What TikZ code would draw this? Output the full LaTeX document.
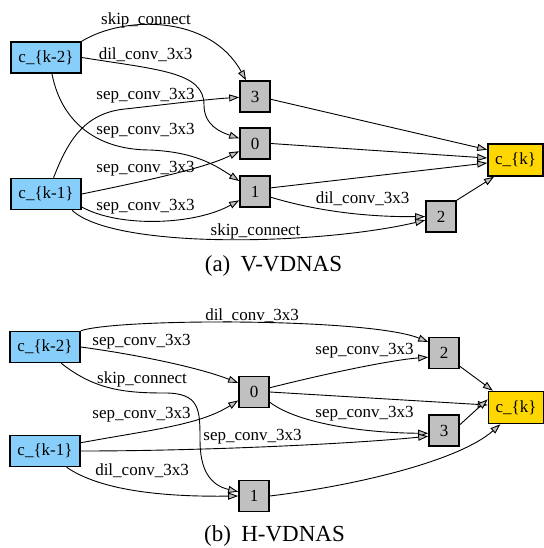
\documentclass[tikz,border=0pt]{standalone}
\usepackage{fontspec}
\setmainfont{Liberation Serif}
\usepackage{xcolor}
\definecolor{skyblue}{RGB}{135,206,250}
\definecolor{goldfill}{RGB}{255,215,0}
\definecolor{opgray}{RGB}{192,192,192}
\usepackage{tikz}
\usetikzlibrary{arrows.meta}

\begin{document}
\begin{tikzpicture}[x=1pt,y=-1pt,
        font=\fontsize{17}{20}\selectfont,
        inp/.style={draw,line width=1.6pt,fill=skyblue,minimum width=70pt,minimum height=31pt,inner sep=0pt},
        opnode/.style={draw,line width=1.6pt,fill=opgray,minimum width=30pt,minimum height=31pt,inner sep=0pt},
        outp/.style={draw,line width=1.6pt,fill=goldfill,minimum width=55pt,minimum height=32pt,inner sep=0pt},
        edge/.style={line width=0.9pt,-{Triangle[length=10pt,width=7pt,fill=opgray]}},
        lbl/.style={anchor=base,inner sep=0pt},
        capt/.style={anchor=base,inner sep=0pt,font=\fontsize{23}{27}\selectfont}]
        \useasboundingbox (0,0) rectangle (543,548);

        % (a) V-VDNAS
        \node[inp] (km2a) at (46,57.5) {c\_\{k-2\}};
        \node[inp] (km1a) at (46,194) {c\_\{k-1\}};
        \node[opnode] (n3a) at (255,96.5) {3};
        \node[opnode] (n0a) at (255,143.5) {0};
        \node[opnode] (n1a) at (255,191.5) {1};
        \node[opnode] (n2a) at (441,216.5) {2};
        \node[outp] (cka) at (515.5,160) {c\_\{k\}};

        \draw[edge] (km2a.north east) .. controls (125,15) and (210,15) .. (n3a);
        \draw[edge] (km2a.east) .. controls (160,70) and (204,72) .. (204,105) .. controls (204,125) and (220,132) .. (n0a);
        \draw[edge] (km2a.-70) .. controls (62,125) and (100,150) .. (150,150) .. controls (195,152) and (215,165) .. (n1a);
        \draw[edge] (km1a.65) .. controls (68,140) and (85,113) .. (125,109) .. controls (170,104) and (210,99) .. (n3a);
        \draw[edge] (km1a.east) .. controls (150,180) and (205,168) .. (n0a);
        \draw[edge] (km1a.-20) .. controls (120,228) and (195,225) .. (n1a);
        \draw[edge] (km1a.-32) .. controls (115,250) and (320,245) .. (n2a);
        \draw[edge] (n1a.-20) .. controls (320,212) and (370,217) .. (n2a);
        \draw[edge] (n3a.-10) -- (cka.160);
        \draw[edge] (n0a.east) -- (cka.176);
        \draw[edge] (n1a.13) -- (cka.-174);
        \draw[edge] (n2a.north east) -- (cka.-142);

        \node[lbl] (la1) at (146,25) {skip\_connect};
        \node[lbl] (la2) at (145.5,60) {dil\_conv\_3x3};
        \node[lbl] (la3) at (145.5,100) {sep\_conv\_3x3};
        \node[lbl] (la4) at (145.5,135) {sep\_conv\_3x3};
        \node[lbl] (la5) at (145.5,172) {sep\_conv\_3x3};
        \node[lbl] (la6) at (145.5,210) {sep\_conv\_3x3};
        \node[lbl] (la7) at (255.5,235) {skip\_connect};
        \node[lbl] (la8) at (362.5,203) {dil\_conv\_3x3};
        \node[capt] (capa) at (273.5,271) {(a)\hspace{0.45em}V-VDNAS};

        % (b) H-VDNAS
        \node[inp] (km2b) at (45,347) {c\_\{k-2\}};
        \node[inp] (km1b) at (45,451) {c\_\{k-1\}};
        \node[opnode] (n0b) at (254,392) {0};
        \node[opnode] (n1b) at (254,496) {1};
        \node[opnode] (n2b) at (444,353) {2};
        \node[opnode] (n3b) at (444,430.5) {3};
        \node[outp] (ckb) at (516,407.5) {c\_\{k\}};

        \draw[edge] (km2b.north east) .. controls (120,318) and (370,318) .. (n2b.145);
        \draw[edge] (km2b.east) .. controls (140,355) and (200,368) .. (n0b.150);
        \draw[edge] (km2b.-45) .. controls (95,390) and (125,393) .. (165,393) .. controls (200,393) and (200,410) .. (200,440) .. controls (200,470) and (210,485) .. (n1b.165);
        \draw[edge] (n0b.15) .. controls (320,375) and (390,360) .. (n2b.-165);
        \draw[edge] (n0b.east) -- (ckb.175);
        \draw[edge] (n0b.-33) .. controls (300,425) and (370,433) .. (n3b.-170);
        \draw[edge] (km1b.13) .. controls (150,430) and (200,425) .. (n0b.-152);
        \draw[edge] (km1b.east) .. controls (200,451) and (350,444) .. (n3b.-160);
        \draw[edge] (km1b.-37) .. controls (100,490) and (160,497) .. (n1b.west);
        \draw[edge] (n2b.-40) -- (ckb.144);
        \draw[edge] (n3b.20) -- (ckb.164);
        \draw[edge] (n1b.east) .. controls (360,485) and (460,460) .. (ckb.-133);

        \node[lbl] (lb1) at (252,320) {dil\_conv\_3x3};
        \node[lbl] (lb2) at (141.5,345) {sep\_conv\_3x3};
        \node[lbl] (lb3) at (142,383) {skip\_connect};
        \node[lbl] (lb4) at (364.5,354) {sep\_conv\_3x3};
        \node[lbl] (lb5) at (141.5,418) {sep\_conv\_3x3};
        \node[lbl] (lb6) at (364.5,417) {sep\_conv\_3x3};
        \node[lbl] (lb7) at (252.5,440) {sep\_conv\_3x3};
        \node[lbl] (lb8) at (142,475) {dil\_conv\_3x3};
        \node[capt] (capb) at (274.5,541) {(b)\hspace{0.45em}H-VDNAS};
    \end{tikzpicture}
\end{document}
